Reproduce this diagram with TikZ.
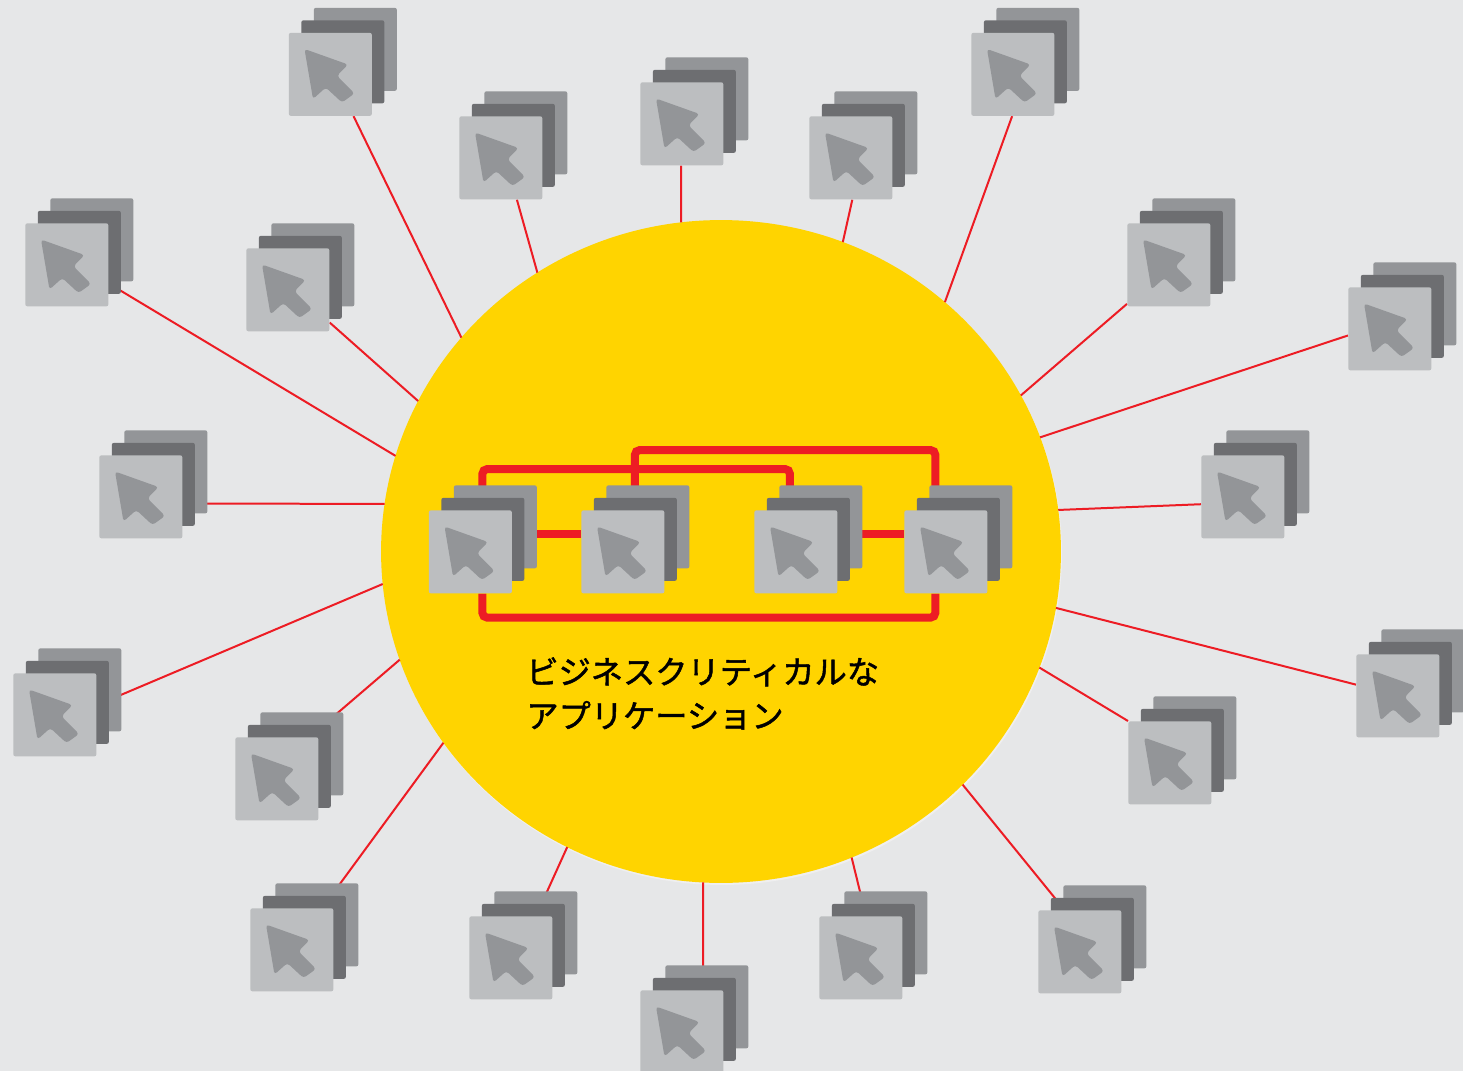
\documentclass[tikz,border=0pt]{standalone}
\usepackage{fontspec}
\usetikzlibrary{shapes.geometric}
\newfontfamily\cjk[FakeBold=1.5]{Noto Sans CJK JP}
\definecolor{pagegray}{HTML}{E6E7E8}
\definecolor{hubyellow}{HTML}{FFD400}
\definecolor{linkred}{HTML}{ED1C24}
\definecolor{frontgray}{HTML}{BCBEC0}
\definecolor{midgray}{HTML}{6D6E71}
\definecolor{backgray}{HTML}{939598}
\pgfdeclarelayer{links}
\pgfsetlayers{links,main}
\tikzset{
    appsheet/.style = {rectangle, minimum size = 1.66cm, inner sep = 0pt, rounded corners = 0.04cm},
    hubshape/.style = {ellipse, minimum width = 13.6cm, minimum height = 13.26cm, inner sep = 0pt},
    thinlink/.style = {draw = linkred, line width = 0.04cm},
    thicklink/.style = {draw = linkred, line width = 0.16cm, rounded corners = 0.1cm},
}
% one stack of three sheets with the pointer on the front one
\newcommand{\appicon}[3]{
    \node[appsheet, fill = backgray, anchor = north west] (#1b) at (#2 + 25, #3 - 25) {};
    \node[appsheet, fill = midgray, anchor = north west] (#1m) at (#2 + 12.5, #3 - 12.5) {};
    \node[appsheet, fill = frontgray, anchor = north west] (#1) at (#2, #3) {};
    \fill[backgray, rounded corners = 0.06cm, shift = {(#2, #3)}]
        (16,16.5) -- (59.5,32) -- (48.5,43.3) -- (66,61) -- (53.5,70)
        -- (37.3,55) -- (24.5,66.5) -- cycle;
}
\begin{document}
\begin{tikzpicture}[x = 0.02cm, y = -0.02cm]

    \useasboundingbox (0,0) rectangle (1463,1071);
    \clip (0,0) rectangle (1463,1071);

    \begin{pgfonlayer}{links}
        \fill[pagegray] (0,0) rectangle (1463,1071);
        \node[hubshape, fill = white!35!pagegray] (hubedge) at (722,553.5) {};
        \node[hubshape, fill = hubyellow] (hub) at (721,551.5) {};
    \end{pgfonlayer}

    % outer stacks: name / x / y / angle at stack / angle on hub rim
    \foreach \n/\x/\y/\p/\q in {
        a1/288.5/32.5/-61.2/139.8, a2/459/116/-69.9/122.7, a3/640/82/-91/96.75,
        a4/809/116/-88.6/69, a5/971/32.5/-91.4/48.8, a6/1127/223/223.6/28.1,
        a7/1348/287/189.5/20.15, a8/1201/455/190.8/7.2, a9/1356/654/165.3/-9.8,
        a10/1128/721/135.7/-20.5, a11/1038/910/110.9/-44.7, a12/819/916/83.2/-67.4,
        a13/640/990/63.4/-93, a14/469/916/59.2/-116.9, a15/250/908/54.8/215.25,
        a16/235/737/52.7/199.06, a17/13/673/13.4/185.63, a18/99/455/-9.5/171.75,
        a19/246/248/-38.2/153, a20/25/223/-24.8/163.23}
    {
        \appicon{\n}{\x}{\y}
        \path (hub.center) ++(\q:6.8cm and 6.63cm) coordinate (rim\n);
        \begin{pgfonlayer}{links}
            \draw[thinlink] (\n.\p) -- (rim\n);
        \end{pgfonlayer}
    }

    % inner stacks and their links
    \foreach \n/\x in {m1/428.5, m2/581, m3/754, m4/904}
    {
        \appicon{\n}{\x}{510}
    }
    \begin{pgfonlayer}{links}
        \draw[thicklink] (m1.74) -- ++(0,-41) -| (m3.98);
        \draw[thicklink] (m2.74) -- ++(0,-60) -| (m4.104.7);
        \draw[thicklink] (m1.-74) -- ++(0,24) -| (m4.-104.7);
        \draw[thicklink] (m1.23.2) -- (m1.23.2 -| m2.west);
        \draw[thicklink] (m3.23.2) -- (m3.23.2 -| m4.west);
    \end{pgfonlayer}

    \node[anchor = north west, align = left, inner sep = 0pt, font = \cjk\fontsize{18.35}{25}\selectfont] (title) at (526,657)
        {ビジネスクリティカルな\\アプリケーション};

\end{tikzpicture}
\end{document}
